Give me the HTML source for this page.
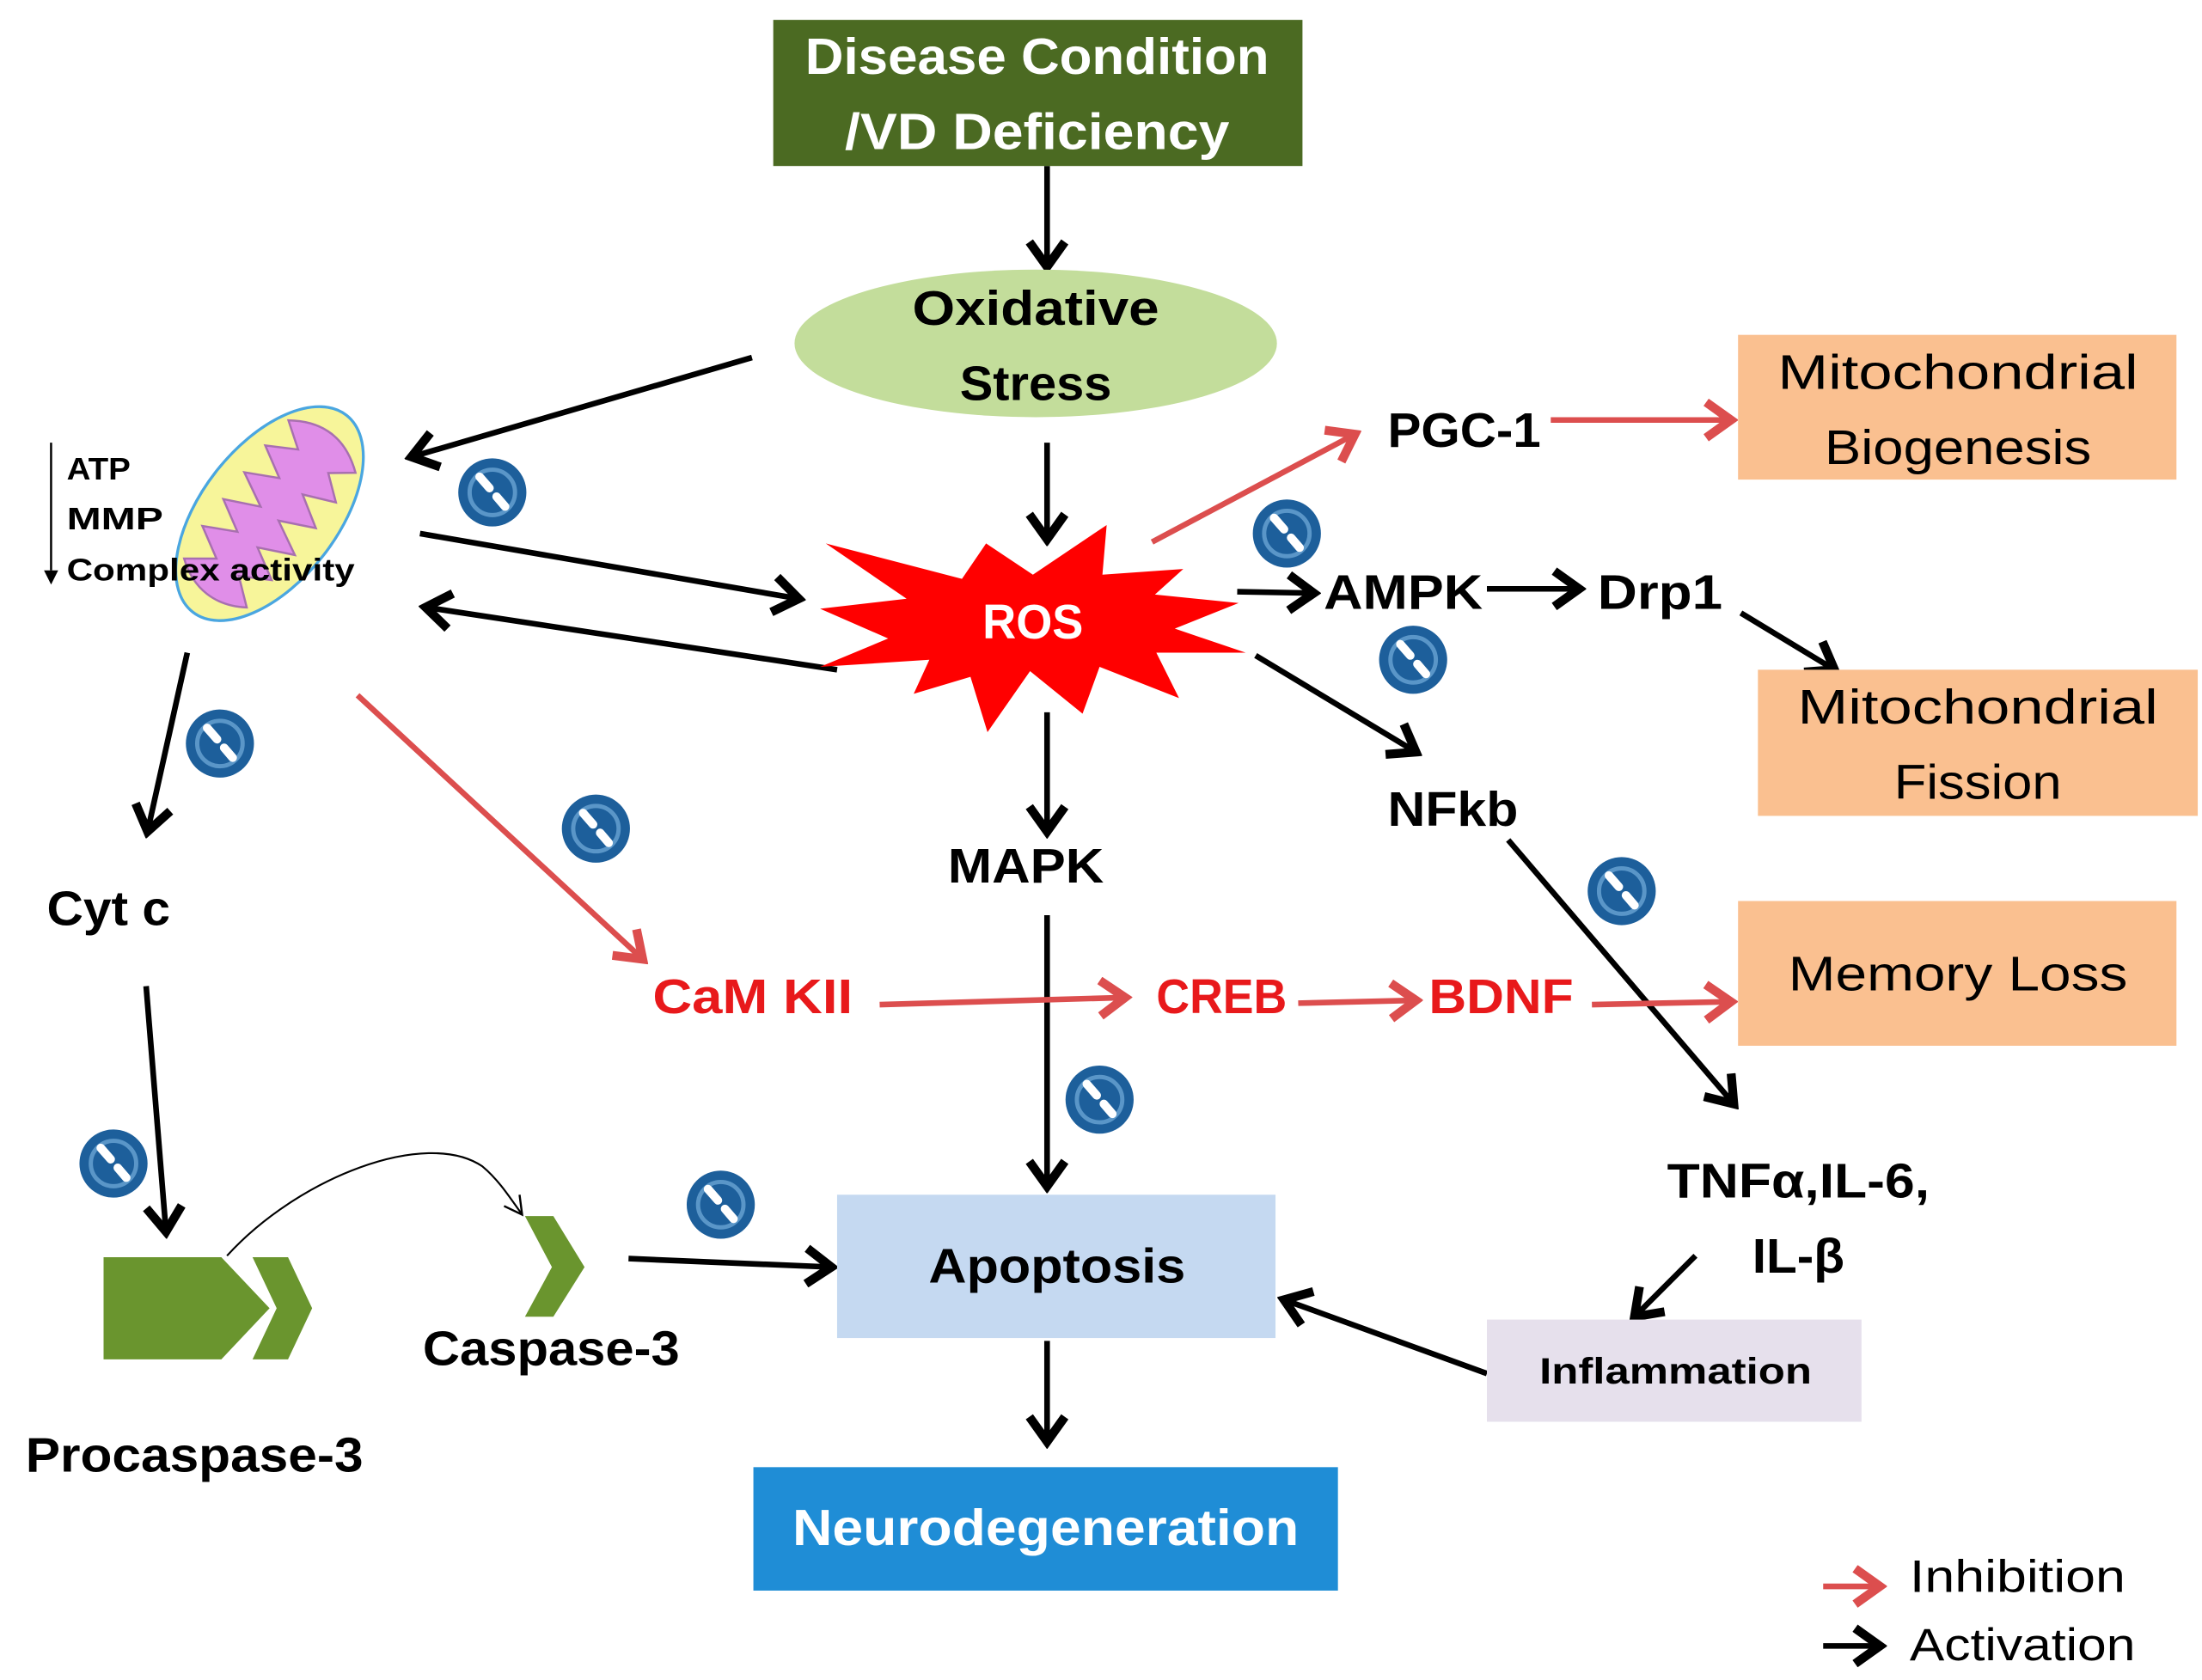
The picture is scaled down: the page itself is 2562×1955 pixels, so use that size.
<!DOCTYPE html>
<html><head><meta charset="utf-8"><style>
html,body{margin:0;padding:0;background:#fff;}
svg{display:block;}
text{font-family:"Liberation Sans",sans-serif;}
.b{font-weight:bold;}
</style></head><body>
<svg width="2562" height="1955" viewBox="0 0 1552 1184" preserveAspectRatio="none" xmlns="http://www.w3.org/2000/svg">
<defs>
<marker id="ak" markerUnits="userSpaceOnUse" markerWidth="30" markerHeight="30" refX="20" refY="12" orient="auto" viewBox="0 0 24 24">
<path d="M6,2 L20,12 L6,22" fill="none" stroke="#000" stroke-width="5" stroke-linejoin="miter"/></marker>
<marker id="ar" markerUnits="userSpaceOnUse" markerWidth="30" markerHeight="30" refX="20" refY="12" orient="auto" viewBox="0 0 24 24">
<path d="M6,2 L20,12 L6,22" fill="none" stroke="#dc4e4e" stroke-width="5"/></marker>
<marker id="at" markerUnits="userSpaceOnUse" markerWidth="18" markerHeight="18" refX="14" refY="8" orient="auto" viewBox="0 0 16 16">
<path d="M3,2 L14,8 L3,14" fill="none" stroke="#000" stroke-width="1.3"/></marker>
<g id="blk">
<circle r="24" fill="#1d5f9b"/>
<circle r="16" fill="none" stroke="#5a96c8" stroke-width="3"/>
<line x1="-9" y1="-11" x2="-2" y2="-3" stroke="#fff" stroke-width="6" stroke-linecap="round"/>
<line x1="3" y1="3" x2="9" y2="10" stroke="#fff" stroke-width="6" stroke-linecap="round"/>
</g>
</defs>

<!-- Disease box -->
<rect x="545" y="14" width="373" height="103" fill="#4b6a22"/>
<text x="731" y="52" class="b" font-size="36" fill="#fff" text-anchor="middle" textLength="327" lengthAdjust="spacingAndGlyphs">Disease Condition</text>
<text x="731" y="105" class="b" font-size="36" fill="#fff" text-anchor="middle" textLength="271" lengthAdjust="spacingAndGlyphs">/VD Deficiency</text>

<g stroke="#000" stroke-width="4" fill="none">
<line x1="738" y1="117" x2="738" y2="188" marker-end="url(#ak)"/>
<line x1="738" y1="312" x2="738" y2="380" marker-end="url(#ak)"/>
<line x1="530" y1="252" x2="290" y2="322" marker-end="url(#ak)"/>
<line x1="296" y1="376" x2="563" y2="422" marker-end="url(#ak)"/>
<line x1="590" y1="472" x2="300" y2="428" marker-end="url(#ak)"/>
<line x1="132" y1="460" x2="104" y2="586" marker-end="url(#ak)"/>
<line x1="103" y1="695" x2="117" y2="868" marker-end="url(#ak)"/>
<line x1="872" y1="417" x2="926" y2="418" marker-end="url(#ak)"/>
<line x1="1048" y1="415" x2="1113" y2="415" marker-end="url(#ak)"/>
<line x1="1227" y1="432" x2="1293" y2="472" marker-end="url(#ak)"/>
<line x1="885" y1="462" x2="998" y2="530" marker-end="url(#ak)"/>
<line x1="1063" y1="592" x2="1222" y2="778" marker-end="url(#ak)"/>
<line x1="738" y1="502" x2="738" y2="586" marker-end="url(#ak)"/>
<line x1="738" y1="645" x2="738" y2="836" marker-end="url(#ak)"/>
<line x1="443" y1="887" x2="586" y2="893" marker-end="url(#ak)"/>
<line x1="1195" y1="885" x2="1152" y2="928" marker-end="url(#ak)"/>
<line x1="1048" y1="968" x2="905" y2="916" marker-end="url(#ak)"/>
<line x1="738" y1="945" x2="738" y2="1016" marker-end="url(#ak)"/>
<line x1="1285" y1="1160" x2="1325" y2="1160" marker-end="url(#ak)"/>
</g>
<g stroke="#dc4e4e" stroke-width="4" fill="none">
<line x1="812" y1="382" x2="955" y2="306" marker-end="url(#ar)"/>
<line x1="1093" y1="296" x2="1220" y2="296" marker-end="url(#ar)"/>
<line x1="252" y1="490" x2="453" y2="676" marker-end="url(#ar)"/>
<line x1="620" y1="708" x2="793" y2="703" marker-end="url(#ar)"/>
<line x1="915" y1="707" x2="998" y2="705" marker-end="url(#ar)"/>
<line x1="1122" y1="708" x2="1220" y2="706" marker-end="url(#ar)"/>
<line x1="1285" y1="1118" x2="1325" y2="1118" marker-end="url(#ar)"/>
</g>

<!-- Oxidative stress -->
<ellipse cx="730" cy="242" rx="170" ry="52" fill="#c3dd9b"/>
<text x="730" y="229" class="b" font-size="34" text-anchor="middle" textLength="174" lengthAdjust="spacingAndGlyphs">Oxidative</text>
<text x="730" y="282" class="b" font-size="34" text-anchor="middle" textLength="107" lengthAdjust="spacingAndGlyphs">Stress</text>

<!-- ROS -->
<polygon fill="#ff0000" points="582,383 678,408 695,383 728,405 780,370 777,405 834,401 814,419 873,425 828,443 878,460 815,460 831,492 775,470 763,503 726,473 696,516 684,477 644,489 655,465 578,470 626,450 578,429 639,422"/>
<text x="728" y="450" class="b" font-size="34" fill="#fff" text-anchor="middle" textLength="71" lengthAdjust="spacingAndGlyphs">ROS</text>

<!-- Mitochondrion -->
<g transform="translate(190,362) rotate(38)">
<ellipse rx="48" ry="88" fill="#f7f59a" stroke="#4aa6e0" stroke-width="2"/>
<path d="M-30,-60 C-10,-75 10,-75 30,-60 L15,-48 L32,-35 L10,-25 L32,-12 L8,0 L32,12 L8,24 L30,36 L10,48 L28,62 C10,75 -10,75 -28,62 L-10,48 L-32,36 L-10,24 L-32,12 L-8,0 L-32,-12 L-10,-24 L-32,-36 L-12,-48 Z" fill="#e08ee8" stroke="#a870b0" stroke-width="1.5"/>
</g>
<line x1="36" y1="312" x2="36" y2="402" stroke="#000" stroke-width="1.5"/>
<polygon points="31,402 41,402 36,412" fill="#000"/>
<text x="47" y="338" class="b" font-size="22" textLength="45" lengthAdjust="spacingAndGlyphs">ATP</text>
<text x="47" y="373" class="b" font-size="22" textLength="68" lengthAdjust="spacingAndGlyphs">MMP</text>
<text x="47" y="409" class="b" font-size="22" textLength="203" lengthAdjust="spacingAndGlyphs">Complex activity</text>

<!-- right side -->
<text x="978" y="315" class="b" font-size="34" textLength="108" lengthAdjust="spacingAndGlyphs">PGC-1</text>
<rect x="1225" y="236" width="309" height="102" fill="#fac090"/>
<text x="1380" y="274" font-size="34" text-anchor="middle" textLength="254" lengthAdjust="spacingAndGlyphs">Mitochondrial</text>
<text x="1380" y="327" font-size="34" text-anchor="middle" textLength="188" lengthAdjust="spacingAndGlyphs">Biogenesis</text>
<text x="933" y="429" class="b" font-size="34" textLength="112" lengthAdjust="spacingAndGlyphs">AMPK</text>
<text x="1126" y="429" class="b" font-size="34" textLength="88" lengthAdjust="spacingAndGlyphs">Drp1</text>
<rect x="1239" y="472" width="310" height="103" fill="#fac090"/>
<text x="1394" y="510" font-size="34" text-anchor="middle" textLength="254" lengthAdjust="spacingAndGlyphs">Mitochondrial</text>
<text x="1394" y="563" font-size="34" text-anchor="middle" textLength="118" lengthAdjust="spacingAndGlyphs">Fission</text>
<text x="978" y="582" class="b" font-size="34" textLength="92" lengthAdjust="spacingAndGlyphs">NFkb</text>
<text x="668" y="622" class="b" font-size="34" textLength="110" lengthAdjust="spacingAndGlyphs">MAPK</text>
<text x="33" y="652" class="b" font-size="34" textLength="87" lengthAdjust="spacingAndGlyphs">Cyt c</text>
<text x="460" y="714" class="b" font-size="34" fill="#e8191b" textLength="141" lengthAdjust="spacingAndGlyphs">CaM KII</text>
<text x="815" y="714" class="b" font-size="34" fill="#e8191b" textLength="92" lengthAdjust="spacingAndGlyphs">CREB</text>
<text x="1007" y="714" class="b" font-size="34" fill="#e8191b" textLength="102" lengthAdjust="spacingAndGlyphs">BDNF</text>
<rect x="1225" y="635" width="309" height="102" fill="#fac090"/>
<text x="1380" y="698" font-size="34" text-anchor="middle" textLength="239" lengthAdjust="spacingAndGlyphs">Memory Loss</text>
<text x="1175" y="844" class="b" font-size="34" textLength="185" lengthAdjust="spacingAndGlyphs">TNFα,IL-6,</text>
<text x="1235" y="897" class="b" font-size="34" textLength="65" lengthAdjust="spacingAndGlyphs">IL-β</text>
<rect x="1048" y="930" width="264" height="72" fill="#e6e0ec"/>
<text x="1181" y="975" class="b" font-size="26" text-anchor="middle" textLength="192" lengthAdjust="spacingAndGlyphs">Inflammation</text>

<rect x="590" y="842" width="309" height="101" fill="#c5d9f1"/>
<text x="745" y="904" class="b" font-size="34" text-anchor="middle" textLength="181" lengthAdjust="spacingAndGlyphs">Apoptosis</text>
<rect x="531" y="1034" width="412" height="87" fill="#1f8dd6"/>
<text x="737" y="1089" class="b" font-size="36" fill="#fff" text-anchor="middle" textLength="357" lengthAdjust="spacingAndGlyphs">Neurodegeneration</text>

<!-- caspases -->
<polygon points="73,886 156,886 190,922 156,958 73,958" fill="#6a952e"/>
<polygon points="178,886 203,886 220,922 203,958 178,958 195,922" fill="#6a952e"/>
<polygon points="370,857 390,857 412,893 390,928 370,928 389,893" fill="#6a952e"/>
<path d="M160,885 C210,830 300,795 340,822 C352,832 360,845 368,856" fill="none" stroke="#000" stroke-width="1.3" marker-end="url(#at)"/>
<text x="298" y="962" class="b" font-size="34" textLength="181" lengthAdjust="spacingAndGlyphs">Caspase-3</text>
<text x="18" y="1037" class="b" font-size="34" textLength="238" lengthAdjust="spacingAndGlyphs">Procaspase-3</text>

<!-- block icons -->
<use href="#blk" x="347" y="347"/>
<use href="#blk" x="155" y="524"/>
<use href="#blk" x="420" y="584"/>
<use href="#blk" x="80" y="820"/>
<use href="#blk" x="508" y="849"/>
<use href="#blk" x="775" y="775"/>
<use href="#blk" x="907" y="376"/>
<use href="#blk" x="996" y="465"/>
<use href="#blk" x="1143" y="628"/>

<!-- legend -->
<text x="1346" y="1122" font-size="32" textLength="152" lengthAdjust="spacingAndGlyphs">Inhibition</text>
<text x="1346" y="1170" font-size="32" textLength="159" lengthAdjust="spacingAndGlyphs">Activation</text>
</svg>
</body></html>
